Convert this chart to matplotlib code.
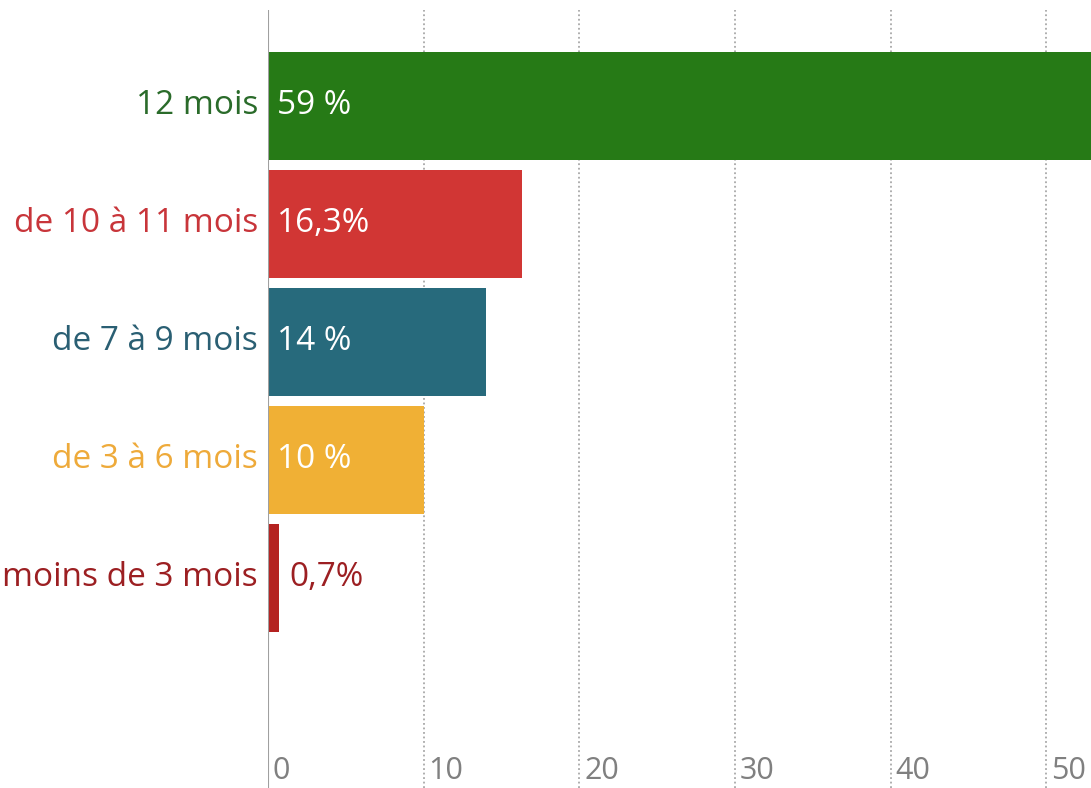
import matplotlib
matplotlib.use("Agg")
import matplotlib.pyplot as plt

# data
categories = ["12 mois", "de 10 à 11 mois", "de 7 à 9 mois", "de 3 à 6 mois", "moins de 3 mois"]
values = [59, 16.3, 14, 10, 0.7]
value_labels = ["59 %", "16,3%", "14 %", "10 %", "0,7%"]
bar_colors = ["#267a16", "#d13634", "#276a7c", "#f0b035", "#b42220"]
label_colors = ["#2a6b2a", "#c8353a", "#2a5f73", "#eeaa3a", "#9c1f22"]
xticks = [0, 10, 20, 30, 40, 50]

plt.rcParams["font.family"] = ["Open Sans", "DejaVu Sans"]

fig = plt.figure(figsize=(10.91, 7.88), dpi=100)
ax = fig.add_axes([268 / 1091, 0, 823 / 1091, 778 / 788])

ypos = list(range(len(categories)))
ax.barh(ypos, values, height=0.915, color=bar_colors, zorder=2)

ax.set_xlim(0, 52.86)
ax.set_ylim(5.78, -0.81)

# dotted grid + solid zero line
for x in xticks[1:]:
    ax.axvline(x, color="#a8a8a8", lw=1.3, ls=(0, (1, 1.5)), zorder=1)
ax.axvline(0, color="#a0a0a0", lw=1.5, zorder=3)

for x in xticks:
    ax.text(x + 0.3, 5.64, str(x), color="#808080", fontsize=22,
            ha="left", va="center")

for y, cat, col in zip(ypos, categories, label_colors):
    ax.text(-0.64, y, cat, color=col, fontsize=24, ha="right", va="center",
            clip_on=False)

for y, v, lab, col in zip(ypos, values, value_labels, label_colors):
    if v > 3:
        ax.text(0.6, y, lab, color="white", fontsize=24, ha="left", va="center")
    else:
        ax.text(v + 0.7, y, lab, color=col, fontsize=24, ha="left", va="center")

ax.set_xticks([])
ax.set_yticks([])
for s in ax.spines.values():
    s.set_visible(False)

fig.savefig("out.png", dpi=100)
